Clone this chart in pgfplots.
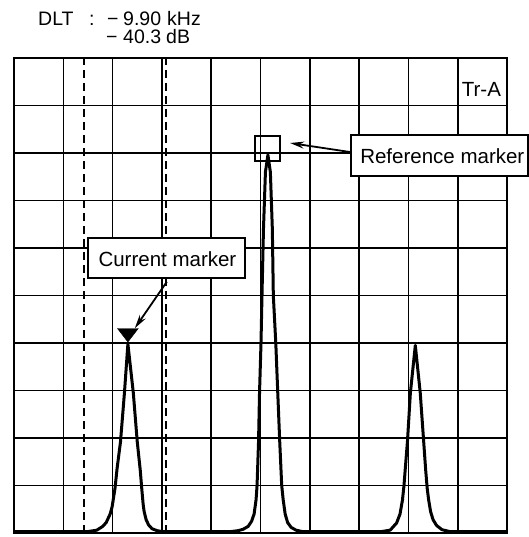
\documentclass[border=0pt]{standalone}
\usepackage{pgfplots}
\pgfplotsset{compat=1.18}
\usepackage{fontspec}
\setmainfont{Liberation Sans}
\usetikzlibrary{arrows.meta}

\pgfplotstableread{
x y
0.00 0.03
1.50 0.03
1.68 0.06
1.80 0.14
1.87 0.22
1.95 0.40
1.99 0.55
2.05 0.95
2.09 1.35
2.16 1.92
2.24 2.95
2.31 3.98
2.42 2.95
2.50 1.92
2.56 1.33
2.59 0.95
2.62 0.60
2.64 0.45
2.68 0.28
2.73 0.17
2.80 0.09
2.90 0.05
3.00 0.03
4.40 0.03
4.55 0.05
4.65 0.08
4.75 0.14
4.82 0.25
4.87 0.40
4.91 0.70
4.93 1.00
4.96 1.92
4.98 2.95
5.01 4.00
5.03 5.00
5.06 6.40
5.10 7.60
5.15 7.96
5.20 7.60
5.24 6.40
5.26 5.00
5.31 4.00
5.35 2.95
5.39 1.92
5.43 1.00
5.46 0.70
5.50 0.40
5.55 0.22
5.62 0.12
5.72 0.06
5.85 0.03
7.45 0.03
7.63 0.06
7.76 0.21
7.83 0.40
7.88 0.70
7.91 1.00
7.94 1.40
7.98 1.92
8.04 2.95
8.14 3.95
8.24 2.95
8.31 1.92
8.35 1.33
8.38 0.95
8.41 0.70
8.45 0.45
8.50 0.28
8.57 0.16
8.68 0.07
8.84 0.03
10.00 0.03
}\trace

\begin{document}
\begin{tikzpicture}
\begin{axis}[
  x=49.3bp, y=47.5bp,
  xmin=0, xmax=10, ymin=0, ymax=10,
  xtick={0,1,...,10}, ytick={0,1,...,10},
  xticklabels={}, yticklabels={},
  major tick length=0pt,
  grid=major,
  major grid style={black, line width=1.6bp},
  axis line style={black, line width=1.8bp},
  clip=false,
]
% dashed markers
\addplot[black, line width=1.6bp, dash pattern=on 8bp off 5bp] coordinates {(1.42,0) (1.42,10)};
\addplot[black, line width=1.8bp, dash pattern=on 8bp off 5bp] coordinates {(3.08,0) (3.08,10)};
% trace
\addplot[black, line width=3bp, line join=round] table[x=x,y=y] {\trace};
% markers
\addplot[only marks, mark=triangle*, mark size=12bp, mark options={yscale=-0.75, fill=black, draw=black}] coordinates {(2.31,4.21)};
\addplot[only marks, mark=square, mark size=12.5bp, mark options={line width=2bp, draw=black}] coordinates {(5.15,8.105)};

% boxes
\draw[fill=white, line width=1.6bp] (axis cs:6.836,8.379) rectangle (axis cs:10.42,7.516);
\draw[fill=white, line width=1.6bp] (axis cs:1.501,6.211) rectangle (axis cs:4.686,5.368);
\node[anchor=base west, inner sep=0pt, font=\fontsize{20.5bp}{24bp}\selectfont] at (axis cs:7.02,7.78) {Reference marker};
\node[anchor=base west, inner sep=0pt, font=\fontsize{20.5bp}{24bp}\selectfont] at (axis cs:1.71,5.61) {Current marker};
\node[anchor=base west, inner sep=0pt, font=\fontsize{20.5bp}{24bp}\selectfont] at (axis cs:9.08,9.185) {Tr-A};
% arrows
\draw[-{Stealth[length=14bp,width=7bp]}, line width=1.8bp] (axis cs:6.82,8.02) -- (axis cs:5.60,8.21);
\draw[-{Stealth[length=14bp,width=7bp]}, line width=1.8bp] (axis cs:3.10,5.29) -- (axis cs:2.45,4.31);
% header
\node[anchor=base west, inner sep=0pt, font=\fontsize{19.5bp}{22bp}\selectfont] at (axis cs:0.487,10.69) {DLT};
\node[anchor=base, inner sep=0pt, font=\fontsize{19.5bp}{22bp}\selectfont] at (axis cs:1.58,10.69) {:};
\node[anchor=base west, inner sep=0pt, font=\fontsize{19.5bp}{22bp}\selectfont] at (axis cs:1.886,10.69) {−};
\node[anchor=base west, inner sep=0pt, font=\fontsize{19.5bp}{22bp}\selectfont] at (axis cs:2.211,10.69) {9.90};
\node[anchor=base west, inner sep=0pt, font=\fontsize{19.5bp}{22bp}\selectfont] at (axis cs:3.103,10.69) {kHz};
\node[anchor=base west, inner sep=0pt, font=\fontsize{19.5bp}{22bp}\selectfont] at (axis cs:1.866,10.31) {−};
\node[anchor=base west, inner sep=0pt, font=\fontsize{19.5bp}{22bp}\selectfont] at (axis cs:2.211,10.31) {40.3};
\node[anchor=base west, inner sep=0pt, font=\fontsize{19.5bp}{22bp}\selectfont] at (axis cs:3.083,10.31) {dB};
\coordinate (bbsw) at (axis cs:-0.284,-0.084);
\coordinate (bbne) at (axis cs:10.446,11.221);
\end{axis}
\pgfresetboundingbox
\path (bbsw) rectangle (bbne);
\end{tikzpicture}
\end{document}
